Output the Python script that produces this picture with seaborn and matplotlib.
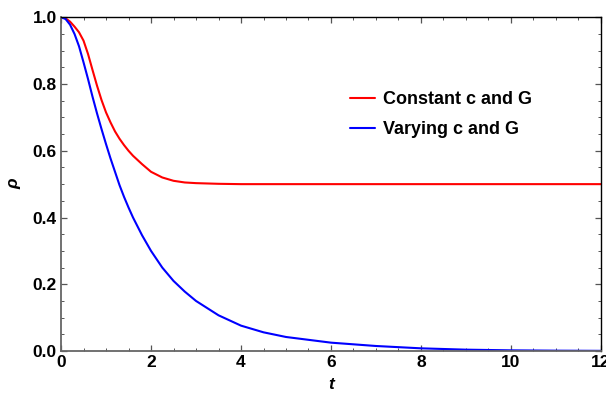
import numpy as np
import pandas as pd
import matplotlib
matplotlib.use("Agg")
import matplotlib.pyplot as plt
import seaborn as sns
from matplotlib.ticker import MultipleLocator

# valores
t_const = [0, 0.1, 0.2, 0.3, 0.4, 0.5, 0.6, 0.7, 0.8, 0.9, 1.0, 1.1, 1.2,
           1.3, 1.4, 1.5, 1.6, 1.8, 2.0, 2.25, 2.5, 2.75, 3.0, 3.5, 4.0,
           5.0, 6.0, 8.0, 10.0, 12.0]
rho_const = [1.0, 0.997, 0.987, 0.972, 0.955, 0.93, 0.89, 0.842, 0.795,
             0.752, 0.715, 0.685, 0.658, 0.636, 0.617, 0.60, 0.585, 0.56,
             0.537, 0.52, 0.51, 0.505, 0.503, 0.501, 0.5, 0.5, 0.5, 0.5,
             0.5, 0.5]

t_vary = [0, 0.1, 0.2, 0.3, 0.4, 0.5, 0.6, 0.7, 0.8, 0.9, 1.0, 1.1, 1.2,
          1.3, 1.4, 1.5, 1.6, 1.8, 2.0, 2.25, 2.5, 2.75, 3.0, 3.5, 4.0, 4.5,
          5.0, 6.0, 7.0, 8.0, 9.0, 10.0, 11.0, 12.0]
rho_vary = [1.0, 0.995, 0.978, 0.95, 0.913, 0.865, 0.815, 0.762, 0.712,
            0.665, 0.62, 0.577, 0.537, 0.497, 0.462, 0.43, 0.40, 0.347,
            0.30, 0.25, 0.21, 0.178, 0.15, 0.107, 0.076, 0.056, 0.042,
            0.025, 0.015, 0.008, 0.004, 0.002, 0.001, 0.0005]

labels = ["Constant c and G", "Varying c and G"]
colors = ["#ff0000", "#0000ff"]
x_ticks = [0, 2, 4, 6, 8, 10, 12]
y_ticks = [0.0, 0.2, 0.4, 0.6, 0.8, 1.0]

df = pd.concat([
    pd.DataFrame({"t": t_const, "rho": rho_const, "case": labels[0]}),
    pd.DataFrame({"t": t_vary, "rho": rho_vary, "case": labels[1]}),
])

sns.set_style("ticks")
plt.rcParams["font.family"] = ["Liberation Sans", "DejaVu Sans"]
plt.rcParams["text.color"] = "black"
plt.rcParams["axes.labelcolor"] = "black"

fig = plt.figure(figsize=(6.06, 4.0), dpi=100)
ax = fig.add_axes([0.1007, 0.1225, 0.8910, 0.8343])

sns.lineplot(data=df, x="t", y="rho", hue="case", palette=colors,
             linewidth=1.5, ax=ax, sort=True)

ax.set_xlim(0, 12)
ax.set_ylim(0, 1.0)
ax.set_xticks(x_ticks)
ax.set_xticklabels([str(v) for v in x_ticks])
ax.set_yticks(y_ticks)
ax.set_yticklabels([f"{v:.1f}" for v in y_ticks])
ax.xaxis.set_minor_locator(MultipleLocator(0.5))
ax.yaxis.set_minor_locator(MultipleLocator(0.05))

ax.tick_params(which="both", direction="in", top=True, right=True,
               color="#555555", labelcolor="black", pad=3)
ax.tick_params(which="major", length=4, width=0.9, labelsize=12.5)
ax.tick_params(which="minor", length=2.2, width=0.7)
for lab in ax.get_xticklabels() + ax.get_yticklabels():
    lab.set_fontweight("bold")

for side in ["left", "bottom"]:
    ax.spines[side].set_color("#666666")
    ax.spines[side].set_linewidth(1.3)
for side in ["top", "right"]:
    ax.spines[side].set_visible(True)
    ax.spines[side].set_color("black")
    ax.spines[side].set_linewidth(1.0)

ax.set_xlabel("t", fontsize=12.5, fontweight="bold", style="italic", labelpad=5)
ax.set_ylabel("ρ", fontsize=12.5, fontweight="bold", style="italic", labelpad=8)

leg = ax.legend(title=None, frameon=False, loc="center left",
                bbox_to_anchor=(0.505, 0.708), handlelength=1.4,
                handletextpad=0.45, labelspacing=0.75,
                prop={"weight": "bold", "size": 13})
for txt in leg.get_texts():
    txt.set_color("black")

fig.savefig("out.png", dpi=100)
